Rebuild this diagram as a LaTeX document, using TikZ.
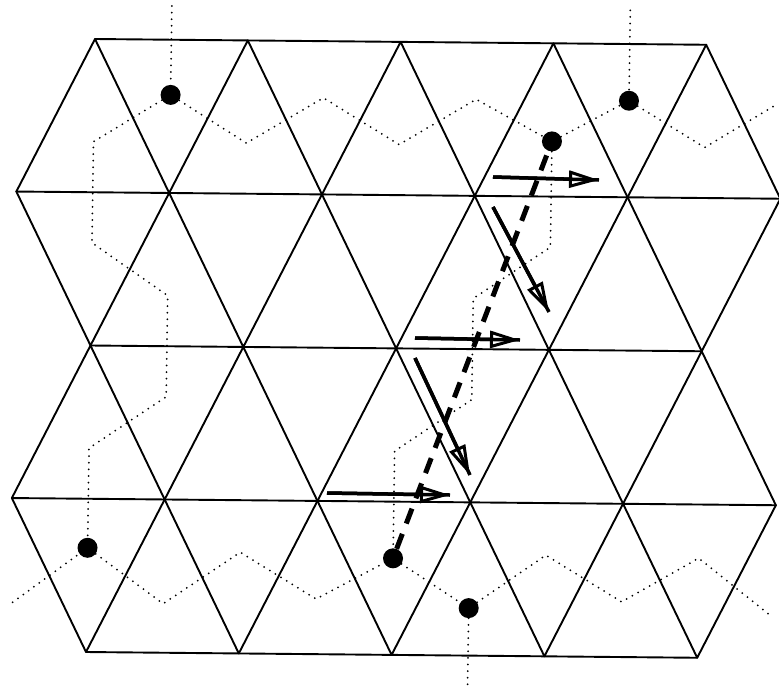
\documentclass[tikz,border=0pt]{standalone}
\usetikzlibrary{arrows.meta}
\begin{document}
\begin{tikzpicture}[
  lat/.style={line width=1.9pt, line cap=round, line join=round},
  dotline/.style={line width=2pt, dash pattern=on 0pt off 6.6pt, line cap=round},
  site/.style={circle, fill=black, inner sep=0pt, minimum size=20pt},
  mv/.style={line width=3.5pt, preaction={draw, -, line width=3.5pt},
    -{Triangle[open, length=30pt, width=17pt, line width=3pt]}},
  dashline/.style={line width=5pt, dash pattern=on 16pt off 11pt}
]
\useasboundingbox (0,0) rectangle (779pt,-694pt);
\begin{scope}[shift={(95pt,-39pt)}, x={(76.4pt,-0.72pt)}, y={(-2.25pt,-153.25pt)}]
  % lattice
  \foreach \j in {0,2,4} \draw[lat] (0,\j) -- (8,\j);
  \foreach \j in {1,3} \draw[lat] (-1,\j) -- (9,\j);
  \foreach \j in {0,2} {
    \foreach \i in {0,2,...,8} {
      \draw[lat] (\i-1,\j+1) -- (\i,\j) -- (\i+1,\j+1);
      \draw[lat] (\i-1,\j+1) -- (\i,\j+2) -- (\i+1,\j+1);
    }
  }
  % sites
  \node[site] (d1) at (1,0.36) {};
  \node[site] (d2) at (7,0.37) {};
  \node[site] (d3) at (6,0.64) {};
  \node[site] (d4) at (0,3.32) {};
  \node[site] (d5) at (4,3.37) {};
  \node[site] (d6) at (5,3.69) {};
  % path coordinates
  \coordinate (t1) at (1,-0.22);
  \coordinate (t2) at (7,-0.22);
  \coordinate (b6) at (5,4.22);
  \coordinate (l1) at (0,0.67);
  \coordinate (l2) at (0,1.33);
  \coordinate (l3) at (1,1.67);
  \coordinate (l4) at (1,2.33);
  \coordinate (l5) at (0,2.67);
  \coordinate (u1) at (2,0.67);
  \coordinate (u2) at (3,0.37);
  \coordinate (u3) at (4,0.67);
  \coordinate (u4) at (5,0.37);
  \coordinate (u5) at (8,0.67);
  \coordinate (u6) at (8.95,0.38);
  \coordinate (r1) at (6,1.33);
  \coordinate (r2) at (5,1.67);
  \coordinate (r3) at (5,2.33);
  \coordinate (r4) at (4,2.67);
  \coordinate (w0) at (-0.97,3.68);
  \coordinate (w1) at (1,3.68);
  \coordinate (w2) at (2,3.34);
  \coordinate (w3) at (3,3.64);
  \coordinate (w4) at (6,3.34);
  \coordinate (w5) at (7,3.64);
  \coordinate (w6) at (8,3.35);
  \coordinate (w7) at (8.95,3.72);
  % dotted paths
  \draw[dotline] (t1) -- (d1);
  \draw[dotline] (t2) -- (d2);
  \draw[dotline] (d6) -- (b6);
  \draw[dotline] (d1) -- (l1) -- (l2) -- (l3) -- (l4) -- (l5) -- (d4);
  \draw[dotline] (d1) -- (u1) -- (u2) -- (u3) -- (u4) -- (d3);
  \draw[dotline] (d3) -- (d2);
  \draw[dotline] (d2) -- (u5) -- (u6);
  \draw[dotline] (d3) -- (r1) -- (r2) -- (r3) -- (r4) -- (d5);
  \draw[dotline] (w0) -- (d4);
  \draw[dotline] (d4) -- (w1) -- (w2) -- (w3) -- (d5);
  \draw[dotline] (d5) -- (d6);
  \draw[dotline] (d6) -- (w4) -- (w5) -- (w6) -- (w7);
  % dashed move
  \draw[dashline] (d5) -- (d3);
\end{scope}
% arrows
\coordinate (a1s) at (493pt,-177pt); \coordinate (a1e) at (599pt,-180pt);
\coordinate (a2s) at (493pt,-207pt); \coordinate (a2e) at (549pt,-312pt);
\coordinate (a3s) at (415pt,-338pt); \coordinate (a3e) at (520pt,-340pt);
\coordinate (a4s) at (415pt,-358pt); \coordinate (a4e) at (470pt,-475pt);
\coordinate (a5s) at (327pt,-493pt); \coordinate (a5e) at (450pt,-495pt);
\draw[mv] (a1s) -- (a1e);
\draw[mv] (a2s) -- (a2e);
\draw[mv] (a3s) -- (a3e);
\draw[mv] (a4s) -- (a4e);
\draw[mv] (a5s) -- (a5e);
\end{tikzpicture}
\end{document}
